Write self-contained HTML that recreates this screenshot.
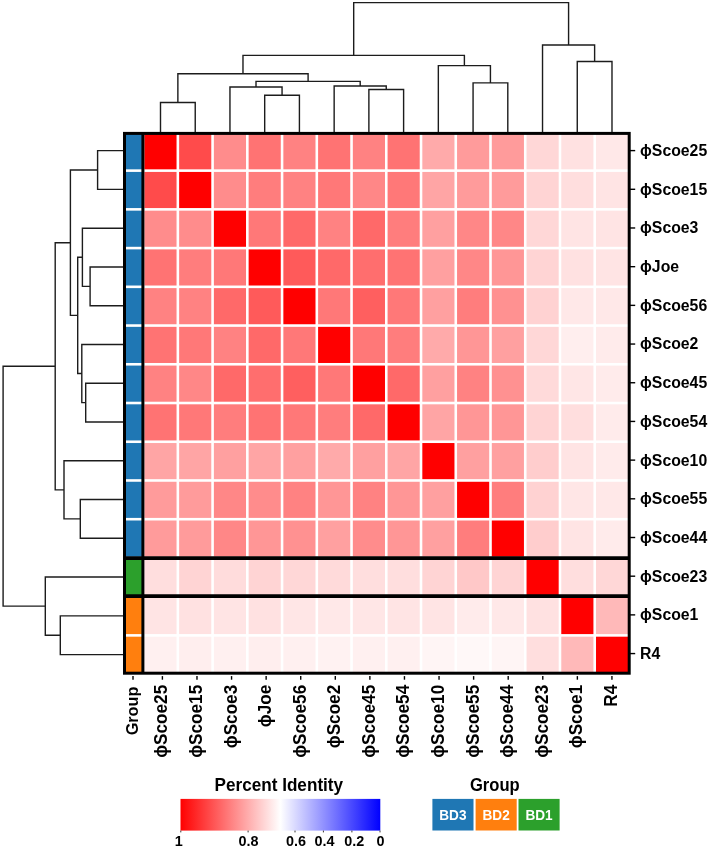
<!DOCTYPE html>
<html lang="en"><head><meta charset="utf-8"><title>Percent Identity Heatmap</title>
<style>html,body{margin:0;padding:0;background:#fff}svg{display:block}</style></head>
<body>
<svg width="708" height="849" viewBox="0 0 708 849">
<rect x="0" y="0" width="708" height="849" fill="#fff"/>
<g shape-rendering="auto">
<rect x="144.40" y="133.20" width="32.14" height="36.13" fill="rgb(255,0,0)"/>
<rect x="179.14" y="133.20" width="32.14" height="36.13" fill="rgb(255,75,75)"/>
<rect x="213.88" y="133.20" width="32.14" height="36.13" fill="rgb(255,140,140)"/>
<rect x="248.62" y="133.20" width="32.14" height="36.13" fill="rgb(255,115,115)"/>
<rect x="283.36" y="133.20" width="32.14" height="36.13" fill="rgb(255,130,130)"/>
<rect x="318.10" y="133.20" width="32.14" height="36.13" fill="rgb(255,115,115)"/>
<rect x="352.84" y="133.20" width="32.14" height="36.13" fill="rgb(255,130,130)"/>
<rect x="387.58" y="133.20" width="32.14" height="36.13" fill="rgb(255,115,115)"/>
<rect x="422.32" y="133.20" width="32.14" height="36.13" fill="rgb(255,170,170)"/>
<rect x="457.06" y="133.20" width="32.14" height="36.13" fill="rgb(255,155,155)"/>
<rect x="491.80" y="133.20" width="32.14" height="36.13" fill="rgb(255,155,155)"/>
<rect x="526.54" y="133.20" width="32.14" height="36.13" fill="rgb(255,215,215)"/>
<rect x="561.28" y="133.20" width="32.14" height="36.13" fill="rgb(255,225,225)"/>
<rect x="596.02" y="133.20" width="32.14" height="36.13" fill="rgb(255,232,232)"/>
<rect x="144.40" y="171.93" width="32.14" height="36.13" fill="rgb(255,75,75)"/>
<rect x="179.14" y="171.93" width="32.14" height="36.13" fill="rgb(255,0,0)"/>
<rect x="213.88" y="171.93" width="32.14" height="36.13" fill="rgb(255,140,140)"/>
<rect x="248.62" y="171.93" width="32.14" height="36.13" fill="rgb(255,125,125)"/>
<rect x="283.36" y="171.93" width="32.14" height="36.13" fill="rgb(255,130,130)"/>
<rect x="318.10" y="171.93" width="32.14" height="36.13" fill="rgb(255,120,120)"/>
<rect x="352.84" y="171.93" width="32.14" height="36.13" fill="rgb(255,135,135)"/>
<rect x="387.58" y="171.93" width="32.14" height="36.13" fill="rgb(255,120,120)"/>
<rect x="422.32" y="171.93" width="32.14" height="36.13" fill="rgb(255,165,165)"/>
<rect x="457.06" y="171.93" width="32.14" height="36.13" fill="rgb(255,155,155)"/>
<rect x="491.80" y="171.93" width="32.14" height="36.13" fill="rgb(255,155,155)"/>
<rect x="526.54" y="171.93" width="32.14" height="36.13" fill="rgb(255,212,212)"/>
<rect x="561.28" y="171.93" width="32.14" height="36.13" fill="rgb(255,222,222)"/>
<rect x="596.02" y="171.93" width="32.14" height="36.13" fill="rgb(255,228,228)"/>
<rect x="144.40" y="210.66" width="32.14" height="36.13" fill="rgb(255,140,140)"/>
<rect x="179.14" y="210.66" width="32.14" height="36.13" fill="rgb(255,140,140)"/>
<rect x="213.88" y="210.66" width="32.14" height="36.13" fill="rgb(255,0,0)"/>
<rect x="248.62" y="210.66" width="32.14" height="36.13" fill="rgb(255,120,120)"/>
<rect x="283.36" y="210.66" width="32.14" height="36.13" fill="rgb(255,105,105)"/>
<rect x="318.10" y="210.66" width="32.14" height="36.13" fill="rgb(255,130,130)"/>
<rect x="352.84" y="210.66" width="32.14" height="36.13" fill="rgb(255,105,105)"/>
<rect x="387.58" y="210.66" width="32.14" height="36.13" fill="rgb(255,125,125)"/>
<rect x="422.32" y="210.66" width="32.14" height="36.13" fill="rgb(255,160,160)"/>
<rect x="457.06" y="210.66" width="32.14" height="36.13" fill="rgb(255,135,135)"/>
<rect x="491.80" y="210.66" width="32.14" height="36.13" fill="rgb(255,135,135)"/>
<rect x="526.54" y="210.66" width="32.14" height="36.13" fill="rgb(255,215,215)"/>
<rect x="561.28" y="210.66" width="32.14" height="36.13" fill="rgb(255,228,228)"/>
<rect x="596.02" y="210.66" width="32.14" height="36.13" fill="rgb(255,228,228)"/>
<rect x="144.40" y="249.39" width="32.14" height="36.13" fill="rgb(255,115,115)"/>
<rect x="179.14" y="249.39" width="32.14" height="36.13" fill="rgb(255,125,125)"/>
<rect x="213.88" y="249.39" width="32.14" height="36.13" fill="rgb(255,120,120)"/>
<rect x="248.62" y="249.39" width="32.14" height="36.13" fill="rgb(255,0,0)"/>
<rect x="283.36" y="249.39" width="32.14" height="36.13" fill="rgb(255,90,90)"/>
<rect x="318.10" y="249.39" width="32.14" height="36.13" fill="rgb(255,105,105)"/>
<rect x="352.84" y="249.39" width="32.14" height="36.13" fill="rgb(255,110,110)"/>
<rect x="387.58" y="249.39" width="32.14" height="36.13" fill="rgb(255,115,115)"/>
<rect x="422.32" y="249.39" width="32.14" height="36.13" fill="rgb(255,160,160)"/>
<rect x="457.06" y="249.39" width="32.14" height="36.13" fill="rgb(255,135,135)"/>
<rect x="491.80" y="249.39" width="32.14" height="36.13" fill="rgb(255,150,150)"/>
<rect x="526.54" y="249.39" width="32.14" height="36.13" fill="rgb(255,212,212)"/>
<rect x="561.28" y="249.39" width="32.14" height="36.13" fill="rgb(255,225,225)"/>
<rect x="596.02" y="249.39" width="32.14" height="36.13" fill="rgb(255,228,228)"/>
<rect x="144.40" y="288.12" width="32.14" height="36.13" fill="rgb(255,130,130)"/>
<rect x="179.14" y="288.12" width="32.14" height="36.13" fill="rgb(255,130,130)"/>
<rect x="213.88" y="288.12" width="32.14" height="36.13" fill="rgb(255,105,105)"/>
<rect x="248.62" y="288.12" width="32.14" height="36.13" fill="rgb(255,90,90)"/>
<rect x="283.36" y="288.12" width="32.14" height="36.13" fill="rgb(255,0,0)"/>
<rect x="318.10" y="288.12" width="32.14" height="36.13" fill="rgb(255,120,120)"/>
<rect x="352.84" y="288.12" width="32.14" height="36.13" fill="rgb(255,95,95)"/>
<rect x="387.58" y="288.12" width="32.14" height="36.13" fill="rgb(255,120,120)"/>
<rect x="422.32" y="288.12" width="32.14" height="36.13" fill="rgb(255,160,160)"/>
<rect x="457.06" y="288.12" width="32.14" height="36.13" fill="rgb(255,125,125)"/>
<rect x="491.80" y="288.12" width="32.14" height="36.13" fill="rgb(255,145,145)"/>
<rect x="526.54" y="288.12" width="32.14" height="36.13" fill="rgb(255,210,210)"/>
<rect x="561.28" y="288.12" width="32.14" height="36.13" fill="rgb(255,232,232)"/>
<rect x="596.02" y="288.12" width="32.14" height="36.13" fill="rgb(255,232,232)"/>
<rect x="144.40" y="326.85" width="32.14" height="36.13" fill="rgb(255,115,115)"/>
<rect x="179.14" y="326.85" width="32.14" height="36.13" fill="rgb(255,120,120)"/>
<rect x="213.88" y="326.85" width="32.14" height="36.13" fill="rgb(255,130,130)"/>
<rect x="248.62" y="326.85" width="32.14" height="36.13" fill="rgb(255,105,105)"/>
<rect x="283.36" y="326.85" width="32.14" height="36.13" fill="rgb(255,120,120)"/>
<rect x="318.10" y="326.85" width="32.14" height="36.13" fill="rgb(255,0,0)"/>
<rect x="352.84" y="326.85" width="32.14" height="36.13" fill="rgb(255,120,120)"/>
<rect x="387.58" y="326.85" width="32.14" height="36.13" fill="rgb(255,125,125)"/>
<rect x="422.32" y="326.85" width="32.14" height="36.13" fill="rgb(255,170,170)"/>
<rect x="457.06" y="326.85" width="32.14" height="36.13" fill="rgb(255,150,150)"/>
<rect x="491.80" y="326.85" width="32.14" height="36.13" fill="rgb(255,160,160)"/>
<rect x="526.54" y="326.85" width="32.14" height="36.13" fill="rgb(255,215,215)"/>
<rect x="561.28" y="326.85" width="32.14" height="36.13" fill="rgb(255,238,238)"/>
<rect x="596.02" y="326.85" width="32.14" height="36.13" fill="rgb(255,235,235)"/>
<rect x="144.40" y="365.58" width="32.14" height="36.13" fill="rgb(255,130,130)"/>
<rect x="179.14" y="365.58" width="32.14" height="36.13" fill="rgb(255,135,135)"/>
<rect x="213.88" y="365.58" width="32.14" height="36.13" fill="rgb(255,105,105)"/>
<rect x="248.62" y="365.58" width="32.14" height="36.13" fill="rgb(255,110,110)"/>
<rect x="283.36" y="365.58" width="32.14" height="36.13" fill="rgb(255,95,95)"/>
<rect x="318.10" y="365.58" width="32.14" height="36.13" fill="rgb(255,120,120)"/>
<rect x="352.84" y="365.58" width="32.14" height="36.13" fill="rgb(255,0,0)"/>
<rect x="387.58" y="365.58" width="32.14" height="36.13" fill="rgb(255,105,105)"/>
<rect x="422.32" y="365.58" width="32.14" height="36.13" fill="rgb(255,160,160)"/>
<rect x="457.06" y="365.58" width="32.14" height="36.13" fill="rgb(255,130,130)"/>
<rect x="491.80" y="365.58" width="32.14" height="36.13" fill="rgb(255,145,145)"/>
<rect x="526.54" y="365.58" width="32.14" height="36.13" fill="rgb(255,218,218)"/>
<rect x="561.28" y="365.58" width="32.14" height="36.13" fill="rgb(255,230,230)"/>
<rect x="596.02" y="365.58" width="32.14" height="36.13" fill="rgb(255,235,235)"/>
<rect x="144.40" y="404.31" width="32.14" height="36.13" fill="rgb(255,115,115)"/>
<rect x="179.14" y="404.31" width="32.14" height="36.13" fill="rgb(255,120,120)"/>
<rect x="213.88" y="404.31" width="32.14" height="36.13" fill="rgb(255,125,125)"/>
<rect x="248.62" y="404.31" width="32.14" height="36.13" fill="rgb(255,115,115)"/>
<rect x="283.36" y="404.31" width="32.14" height="36.13" fill="rgb(255,120,120)"/>
<rect x="318.10" y="404.31" width="32.14" height="36.13" fill="rgb(255,125,125)"/>
<rect x="352.84" y="404.31" width="32.14" height="36.13" fill="rgb(255,105,105)"/>
<rect x="387.58" y="404.31" width="32.14" height="36.13" fill="rgb(255,0,0)"/>
<rect x="422.32" y="404.31" width="32.14" height="36.13" fill="rgb(255,165,165)"/>
<rect x="457.06" y="404.31" width="32.14" height="36.13" fill="rgb(255,150,150)"/>
<rect x="491.80" y="404.31" width="32.14" height="36.13" fill="rgb(255,150,150)"/>
<rect x="526.54" y="404.31" width="32.14" height="36.13" fill="rgb(255,212,212)"/>
<rect x="561.28" y="404.31" width="32.14" height="36.13" fill="rgb(255,222,222)"/>
<rect x="596.02" y="404.31" width="32.14" height="36.13" fill="rgb(255,235,235)"/>
<rect x="144.40" y="443.04" width="32.14" height="36.13" fill="rgb(255,165,165)"/>
<rect x="179.14" y="443.04" width="32.14" height="36.13" fill="rgb(255,165,165)"/>
<rect x="213.88" y="443.04" width="32.14" height="36.13" fill="rgb(255,160,160)"/>
<rect x="248.62" y="443.04" width="32.14" height="36.13" fill="rgb(255,165,165)"/>
<rect x="283.36" y="443.04" width="32.14" height="36.13" fill="rgb(255,160,160)"/>
<rect x="318.10" y="443.04" width="32.14" height="36.13" fill="rgb(255,170,170)"/>
<rect x="352.84" y="443.04" width="32.14" height="36.13" fill="rgb(255,160,160)"/>
<rect x="387.58" y="443.04" width="32.14" height="36.13" fill="rgb(255,165,165)"/>
<rect x="422.32" y="443.04" width="32.14" height="36.13" fill="rgb(255,0,0)"/>
<rect x="457.06" y="443.04" width="32.14" height="36.13" fill="rgb(255,160,160)"/>
<rect x="491.80" y="443.04" width="32.14" height="36.13" fill="rgb(255,160,160)"/>
<rect x="526.54" y="443.04" width="32.14" height="36.13" fill="rgb(255,205,205)"/>
<rect x="561.28" y="443.04" width="32.14" height="36.13" fill="rgb(255,228,228)"/>
<rect x="596.02" y="443.04" width="32.14" height="36.13" fill="rgb(255,235,235)"/>
<rect x="144.40" y="481.77" width="32.14" height="36.13" fill="rgb(255,155,155)"/>
<rect x="179.14" y="481.77" width="32.14" height="36.13" fill="rgb(255,155,155)"/>
<rect x="213.88" y="481.77" width="32.14" height="36.13" fill="rgb(255,135,135)"/>
<rect x="248.62" y="481.77" width="32.14" height="36.13" fill="rgb(255,140,140)"/>
<rect x="283.36" y="481.77" width="32.14" height="36.13" fill="rgb(255,130,130)"/>
<rect x="318.10" y="481.77" width="32.14" height="36.13" fill="rgb(255,150,150)"/>
<rect x="352.84" y="481.77" width="32.14" height="36.13" fill="rgb(255,130,130)"/>
<rect x="387.58" y="481.77" width="32.14" height="36.13" fill="rgb(255,150,150)"/>
<rect x="422.32" y="481.77" width="32.14" height="36.13" fill="rgb(255,160,160)"/>
<rect x="457.06" y="481.77" width="32.14" height="36.13" fill="rgb(255,0,0)"/>
<rect x="491.80" y="481.77" width="32.14" height="36.13" fill="rgb(255,125,125)"/>
<rect x="526.54" y="481.77" width="32.14" height="36.13" fill="rgb(255,210,210)"/>
<rect x="561.28" y="481.77" width="32.14" height="36.13" fill="rgb(255,230,230)"/>
<rect x="596.02" y="481.77" width="32.14" height="36.13" fill="rgb(255,232,232)"/>
<rect x="144.40" y="520.50" width="32.14" height="36.13" fill="rgb(255,155,155)"/>
<rect x="179.14" y="520.50" width="32.14" height="36.13" fill="rgb(255,155,155)"/>
<rect x="213.88" y="520.50" width="32.14" height="36.13" fill="rgb(255,135,135)"/>
<rect x="248.62" y="520.50" width="32.14" height="36.13" fill="rgb(255,150,150)"/>
<rect x="283.36" y="520.50" width="32.14" height="36.13" fill="rgb(255,145,145)"/>
<rect x="318.10" y="520.50" width="32.14" height="36.13" fill="rgb(255,160,160)"/>
<rect x="352.84" y="520.50" width="32.14" height="36.13" fill="rgb(255,140,140)"/>
<rect x="387.58" y="520.50" width="32.14" height="36.13" fill="rgb(255,150,150)"/>
<rect x="422.32" y="520.50" width="32.14" height="36.13" fill="rgb(255,160,160)"/>
<rect x="457.06" y="520.50" width="32.14" height="36.13" fill="rgb(255,125,125)"/>
<rect x="491.80" y="520.50" width="32.14" height="36.13" fill="rgb(255,0,0)"/>
<rect x="526.54" y="520.50" width="32.14" height="36.13" fill="rgb(255,205,205)"/>
<rect x="561.28" y="520.50" width="32.14" height="36.13" fill="rgb(255,228,228)"/>
<rect x="596.02" y="520.50" width="32.14" height="36.13" fill="rgb(255,235,235)"/>
<rect x="144.40" y="559.23" width="32.14" height="36.13" fill="rgb(255,222,222)"/>
<rect x="179.14" y="559.23" width="32.14" height="36.13" fill="rgb(255,212,212)"/>
<rect x="213.88" y="559.23" width="32.14" height="36.13" fill="rgb(255,220,220)"/>
<rect x="248.62" y="559.23" width="32.14" height="36.13" fill="rgb(255,212,212)"/>
<rect x="283.36" y="559.23" width="32.14" height="36.13" fill="rgb(255,215,215)"/>
<rect x="318.10" y="559.23" width="32.14" height="36.13" fill="rgb(255,218,218)"/>
<rect x="352.84" y="559.23" width="32.14" height="36.13" fill="rgb(255,222,222)"/>
<rect x="387.58" y="559.23" width="32.14" height="36.13" fill="rgb(255,222,222)"/>
<rect x="422.32" y="559.23" width="32.14" height="36.13" fill="rgb(255,212,212)"/>
<rect x="457.06" y="559.23" width="32.14" height="36.13" fill="rgb(255,200,200)"/>
<rect x="491.80" y="559.23" width="32.14" height="36.13" fill="rgb(255,212,212)"/>
<rect x="526.54" y="559.23" width="32.14" height="36.13" fill="rgb(255,0,0)"/>
<rect x="561.28" y="559.23" width="32.14" height="36.13" fill="rgb(255,222,222)"/>
<rect x="596.02" y="559.23" width="32.14" height="36.13" fill="rgb(255,215,215)"/>
<rect x="144.40" y="597.96" width="32.14" height="36.13" fill="rgb(255,228,228)"/>
<rect x="179.14" y="597.96" width="32.14" height="36.13" fill="rgb(255,225,225)"/>
<rect x="213.88" y="597.96" width="32.14" height="36.13" fill="rgb(255,228,228)"/>
<rect x="248.62" y="597.96" width="32.14" height="36.13" fill="rgb(255,225,225)"/>
<rect x="283.36" y="597.96" width="32.14" height="36.13" fill="rgb(255,230,230)"/>
<rect x="318.10" y="597.96" width="32.14" height="36.13" fill="rgb(255,232,232)"/>
<rect x="352.84" y="597.96" width="32.14" height="36.13" fill="rgb(255,230,230)"/>
<rect x="387.58" y="597.96" width="32.14" height="36.13" fill="rgb(255,228,228)"/>
<rect x="422.32" y="597.96" width="32.14" height="36.13" fill="rgb(255,228,228)"/>
<rect x="457.06" y="597.96" width="32.14" height="36.13" fill="rgb(255,235,235)"/>
<rect x="491.80" y="597.96" width="32.14" height="36.13" fill="rgb(255,232,232)"/>
<rect x="526.54" y="597.96" width="32.14" height="36.13" fill="rgb(255,225,225)"/>
<rect x="561.28" y="597.96" width="32.14" height="36.13" fill="rgb(255,0,0)"/>
<rect x="596.02" y="597.96" width="32.14" height="36.13" fill="rgb(255,185,185)"/>
<rect x="144.40" y="636.69" width="32.14" height="36.13" fill="rgb(255,240,240)"/>
<rect x="179.14" y="636.69" width="32.14" height="36.13" fill="rgb(255,238,238)"/>
<rect x="213.88" y="636.69" width="32.14" height="36.13" fill="rgb(255,240,240)"/>
<rect x="248.62" y="636.69" width="32.14" height="36.13" fill="rgb(255,238,238)"/>
<rect x="283.36" y="636.69" width="32.14" height="36.13" fill="rgb(255,240,240)"/>
<rect x="318.10" y="636.69" width="32.14" height="36.13" fill="rgb(255,242,242)"/>
<rect x="352.84" y="636.69" width="32.14" height="36.13" fill="rgb(255,240,240)"/>
<rect x="387.58" y="636.69" width="32.14" height="36.13" fill="rgb(255,240,240)"/>
<rect x="422.32" y="636.69" width="32.14" height="36.13" fill="rgb(255,245,245)"/>
<rect x="457.06" y="636.69" width="32.14" height="36.13" fill="rgb(255,248,248)"/>
<rect x="491.80" y="636.69" width="32.14" height="36.13" fill="rgb(255,245,245)"/>
<rect x="526.54" y="636.69" width="32.14" height="36.13" fill="rgb(255,222,222)"/>
<rect x="561.28" y="636.69" width="32.14" height="36.13" fill="rgb(255,185,185)"/>
<rect x="596.02" y="636.69" width="32.14" height="36.13" fill="rgb(255,0,0)"/>
</g>
<rect x="125" y="133.20" width="17.5" height="36.13" fill="#1f77b4"/>
<rect x="125" y="171.93" width="17.5" height="36.13" fill="#1f77b4"/>
<rect x="125" y="210.66" width="17.5" height="36.13" fill="#1f77b4"/>
<rect x="125" y="249.39" width="17.5" height="36.13" fill="#1f77b4"/>
<rect x="125" y="288.12" width="17.5" height="36.13" fill="#1f77b4"/>
<rect x="125" y="326.85" width="17.5" height="36.13" fill="#1f77b4"/>
<rect x="125" y="365.58" width="17.5" height="36.13" fill="#1f77b4"/>
<rect x="125" y="404.31" width="17.5" height="36.13" fill="#1f77b4"/>
<rect x="125" y="443.04" width="17.5" height="36.13" fill="#1f77b4"/>
<rect x="125" y="481.77" width="17.5" height="36.13" fill="#1f77b4"/>
<rect x="125" y="520.50" width="17.5" height="36.13" fill="#1f77b4"/>
<rect x="125" y="559.23" width="17.5" height="36.13" fill="#2ca02c"/>
<rect x="125" y="597.96" width="17.5" height="36.13" fill="#ff7f0e"/>
<rect x="125" y="636.69" width="17.5" height="36.13" fill="#ff7f0e"/>
<g fill="none" stroke="#000" stroke-width="3.0">
<rect x="124.5" y="133.4" width="504.7" height="539.8"/>
<line x1="142.9" y1="133" x2="142.9" y2="673"/>
</g>
<g fill="none" stroke="#000" stroke-width="3.6">
<line x1="124" y1="558.1" x2="630" y2="558.1"/>
<line x1="124" y1="596.1" x2="630" y2="596.1"/>
</g>
<path d="M160.50,132.00V102.50H195.23V132.00M264.69,132.00V95.30H299.42V132.00M229.96,132.00V87.00H282.06V95.30M368.88,132.00V89.50H403.61V132.00M334.15,132.00V86.00H386.25V89.50M256.01,87.00V81.40H360.20V86.00M177.87,102.50V73.70H308.10V81.40M473.07,132.00V82.90H507.80V132.00M438.34,132.00V65.60H490.43V82.90M242.98,73.70V55.40H464.39V65.60M577.26,132.00V61.50H611.99V132.00M542.53,132.00V45.00H594.62V61.50M353.69,55.40V2.60H568.58V45.00" fill="none" stroke="#1c1c1c" stroke-width="1.4"/>
<path d="M123.00,150.65H97.60V189.42H123.00M123.00,266.94H90.10V305.71H123.00M123.00,228.18H82.40V286.33H90.10M123.00,383.24H85.70V422.00H123.00M123.00,344.48H81.80V402.62H85.70M82.40,257.25H77.70V373.55H81.80M97.60,170.03H70.40V315.40H77.70M123.00,499.53H80.30V538.30H123.00M123.00,460.77H64.00V518.92H80.30M70.40,242.72H55.20V489.84H64.00M123.00,615.83H60.30V654.60H123.00M123.00,577.07H45.30V635.21H60.30M55.20,366.28H3.10V606.14H45.30" fill="none" stroke="#1c1c1c" stroke-width="1.4"/>
<g stroke="#000" stroke-width="1.4">
<line x1="630" y1="150.60" x2="635.2" y2="150.60"/>
<line x1="630" y1="189.29" x2="635.2" y2="189.29"/>
<line x1="630" y1="227.98" x2="635.2" y2="227.98"/>
<line x1="630" y1="266.67" x2="635.2" y2="266.67"/>
<line x1="630" y1="305.36" x2="635.2" y2="305.36"/>
<line x1="630" y1="344.05" x2="635.2" y2="344.05"/>
<line x1="630" y1="382.74" x2="635.2" y2="382.74"/>
<line x1="630" y1="421.43" x2="635.2" y2="421.43"/>
<line x1="630" y1="460.12" x2="635.2" y2="460.12"/>
<line x1="630" y1="498.81" x2="635.2" y2="498.81"/>
<line x1="630" y1="537.50" x2="635.2" y2="537.50"/>
<line x1="630" y1="576.19" x2="635.2" y2="576.19"/>
<line x1="630" y1="614.88" x2="635.2" y2="614.88"/>
<line x1="630" y1="653.57" x2="635.2" y2="653.57"/>
<line x1="162.40" y1="676.1" x2="162.40" y2="679.7"/>
<line x1="196.98" y1="676.1" x2="196.98" y2="679.7"/>
<line x1="231.56" y1="676.1" x2="231.56" y2="679.7"/>
<line x1="266.14" y1="676.1" x2="266.14" y2="679.7"/>
<line x1="300.72" y1="676.1" x2="300.72" y2="679.7"/>
<line x1="335.30" y1="676.1" x2="335.30" y2="679.7"/>
<line x1="369.88" y1="676.1" x2="369.88" y2="679.7"/>
<line x1="404.46" y1="676.1" x2="404.46" y2="679.7"/>
<line x1="439.04" y1="676.1" x2="439.04" y2="679.7"/>
<line x1="473.62" y1="676.1" x2="473.62" y2="679.7"/>
<line x1="508.20" y1="676.1" x2="508.20" y2="679.7"/>
<line x1="542.78" y1="676.1" x2="542.78" y2="679.7"/>
<line x1="577.36" y1="676.1" x2="577.36" y2="679.7"/>
<line x1="611.94" y1="676.1" x2="611.94" y2="679.7"/>
<line x1="133" y1="676.1" x2="133" y2="679.7"/>
</g>
<g font-family="'Liberation Sans', sans-serif" font-weight="bold" font-size="17" fill="#000">
<text transform="translate(640.0,156.00) scale(0.93,1)">ϕScoe25</text>
<text transform="translate(640.0,194.69) scale(0.93,1)">ϕScoe15</text>
<text transform="translate(640.0,233.38) scale(0.93,1)">ϕScoe3</text>
<text transform="translate(640.0,272.07) scale(0.93,1)">ϕJoe</text>
<text transform="translate(640.0,310.76) scale(0.93,1)">ϕScoe56</text>
<text transform="translate(640.0,349.45) scale(0.93,1)">ϕScoe2</text>
<text transform="translate(640.0,388.14) scale(0.93,1)">ϕScoe45</text>
<text transform="translate(640.0,426.83) scale(0.93,1)">ϕScoe54</text>
<text transform="translate(640.0,465.52) scale(0.93,1)">ϕScoe10</text>
<text transform="translate(640.0,504.21) scale(0.93,1)">ϕScoe55</text>
<text transform="translate(640.0,542.90) scale(0.93,1)">ϕScoe44</text>
<text transform="translate(640.0,581.59) scale(0.93,1)">ϕScoe23</text>
<text transform="translate(640.0,620.28) scale(0.93,1)">ϕScoe1</text>
<text transform="translate(640.0,658.97) scale(0.93,1)">R4</text>
<text transform="translate(138.1,686.6) rotate(-90) scale(0.957,1)" text-anchor="end">Group</text>
</g>
<g font-family="'Liberation Sans', sans-serif" font-weight="bold" font-size="18.4" fill="#000">
<text transform="translate(167.40,684.8) rotate(-90) scale(0.933,1)" text-anchor="end">ϕScoe25</text>
<text transform="translate(201.98,684.8) rotate(-90) scale(0.933,1)" text-anchor="end">ϕScoe15</text>
<text transform="translate(236.56,684.8) rotate(-90) scale(0.933,1)" text-anchor="end">ϕScoe3</text>
<text transform="translate(271.14,684.8) rotate(-90) scale(0.933,1)" text-anchor="end">ϕJoe</text>
<text transform="translate(305.72,684.8) rotate(-90) scale(0.933,1)" text-anchor="end">ϕScoe56</text>
<text transform="translate(340.30,684.8) rotate(-90) scale(0.933,1)" text-anchor="end">ϕScoe2</text>
<text transform="translate(374.88,684.8) rotate(-90) scale(0.933,1)" text-anchor="end">ϕScoe45</text>
<text transform="translate(409.46,684.8) rotate(-90) scale(0.933,1)" text-anchor="end">ϕScoe54</text>
<text transform="translate(444.04,684.8) rotate(-90) scale(0.933,1)" text-anchor="end">ϕScoe10</text>
<text transform="translate(478.62,684.8) rotate(-90) scale(0.933,1)" text-anchor="end">ϕScoe55</text>
<text transform="translate(513.20,684.8) rotate(-90) scale(0.933,1)" text-anchor="end">ϕScoe44</text>
<text transform="translate(547.78,684.8) rotate(-90) scale(0.933,1)" text-anchor="end">ϕScoe23</text>
<text transform="translate(582.36,684.8) rotate(-90) scale(0.933,1)" text-anchor="end">ϕScoe1</text>
<text transform="translate(616.94,684.8) rotate(-90) scale(0.933,1)" text-anchor="end">R4</text>
</g>
<defs><linearGradient id="cb" x1="0" x2="1" y1="0" y2="0"><stop offset="0" stop-color="#ff0000"/><stop offset="0.5" stop-color="#ffffff"/><stop offset="1" stop-color="#0000ff"/></linearGradient></defs>
<rect x="180.5" y="798.9" width="199.8" height="31.7" fill="url(#cb)"/>
<g stroke="#333" stroke-width="1">
<line x1="180.8" y1="830.6" x2="180.8" y2="832.4"/>
<line x1="248.1" y1="830.6" x2="248.1" y2="832.4"/>
<line x1="295" y1="830.6" x2="295" y2="832.4"/>
<line x1="323.4" y1="830.6" x2="323.4" y2="832.4"/>
<line x1="351.9" y1="830.6" x2="351.9" y2="832.4"/>
<line x1="380.0" y1="830.6" x2="380.0" y2="832.4"/>
</g>
<g font-family="'Liberation Sans', sans-serif" font-weight="bold" fill="#000">
<text x="214.5" y="790.8" font-size="18" textLength="128.6" lengthAdjust="spacingAndGlyphs">Percent Identity</text>
<text x="469.9" y="790.5" font-size="18" textLength="49.8" lengthAdjust="spacingAndGlyphs">Group</text>
</g>
<g font-family="'Liberation Sans', sans-serif" font-weight="bold" fill="#000" text-anchor="middle" font-size="14.4">
<text x="178.8" y="845.9">1</text>
<text x="248.5" y="845.9">0.8</text>
<text x="296.1" y="845.9">0.6</text>
<text x="324.5" y="845.9">0.4</text>
<text x="354.2" y="845.9">0.2</text>
<text x="380.5" y="845.9">0</text>
</g>
<rect x="432.4" y="798.9" width="41.1" height="31.6" fill="#1f77b4"/>
<text x="439.29999999999995" y="820.3" font-family="'Liberation Sans', sans-serif" font-weight="bold" font-size="14.3" fill="#fff" textLength="27.2" lengthAdjust="spacingAndGlyphs">BD3</text>
<rect x="475.6" y="798.9" width="41.1" height="31.6" fill="#ff7f0e"/>
<text x="482.5" y="820.3" font-family="'Liberation Sans', sans-serif" font-weight="bold" font-size="14.3" fill="#fff" textLength="27.2" lengthAdjust="spacingAndGlyphs">BD2</text>
<rect x="518.5" y="798.9" width="41.1" height="31.6" fill="#2ca02c"/>
<text x="525.4" y="820.3" font-family="'Liberation Sans', sans-serif" font-weight="bold" font-size="14.3" fill="#fff" textLength="27.2" lengthAdjust="spacingAndGlyphs">BD1</text>
</svg>
</body></html>
